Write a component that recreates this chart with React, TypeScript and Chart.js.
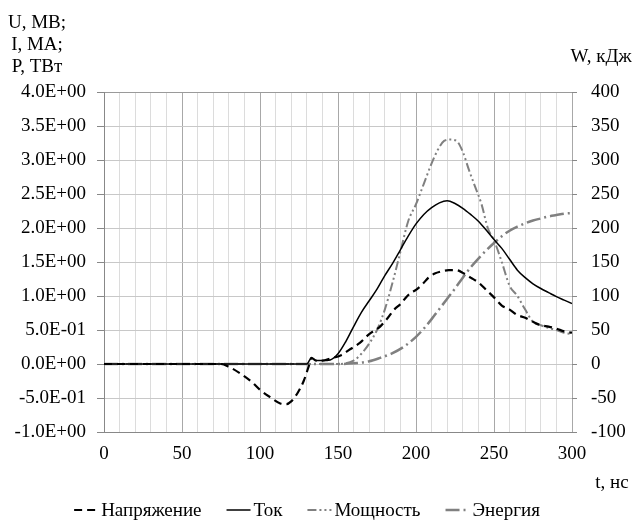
import React, { useEffect, useRef } from 'react';
import { Chart, registerables } from 'chart.js';

Chart.register(...registerables);

const FONT = '"Liberation Serif", "Times New Roman", serif';
const FS = 19;

// ---- Data ----
const seriesNames = ['Напряжение', 'Ток', 'Мощность', 'Энергия'];
const leftTitleLines = ['U, MB;', 'I, MA;', 'P, TBт'];
const rightTitle = 'W, кДж';
const xTitle = 't, нс';

const tVoltage = [0, 75, 80, 88, 95, 100, 106, 113, 117, 120, 124, 128, 131, 133, 136, 140, 145, 152, 158, 164, 170, 177, 182, 186, 190, 194, 197, 200, 204, 208, 212, 216, 221, 226, 230, 235, 240, 245, 250, 255, 260, 265, 270, 275, 280, 285, 290, 295, 300];
const voltage = [0, 0, -0.04, -0.15, -0.27, -0.38, -0.48, -0.58, -0.59, -0.55, -0.43, -0.25, -0.05, 0.09, 0.05, 0.05, 0.08, 0.13, 0.22, 0.31, 0.44, 0.55, 0.68, 0.8, 0.88, 0.99, 1.05, 1.09, 1.17, 1.27, 1.33, 1.36, 1.38, 1.38, 1.34, 1.27, 1.2, 1.09, 0.98, 0.86, 0.8, 0.72, 0.68, 0.62, 0.57, 0.55, 0.52, 0.48, 0.46];

const tCurrent = [0, 130, 133, 136, 140, 145, 150, 155, 160, 165, 170, 175, 180, 185, 190, 195, 200, 205, 210, 215, 220, 225, 230, 235, 240, 245, 250, 255, 260, 265, 270, 275, 280, 285, 290, 295, 300];
const current = [0, 0, 0.09, 0.05, 0.05, 0.06, 0.15, 0.33, 0.55, 0.76, 0.93, 1.1, 1.3, 1.48, 1.68, 1.88, 2.06, 2.2, 2.3, 2.37, 2.4, 2.36, 2.29, 2.2, 2.1, 1.97, 1.83, 1.7, 1.54, 1.38, 1.27, 1.18, 1.11, 1.05, 0.99, 0.94, 0.89];

const tPower = [0, 150, 160, 165, 170, 175, 180, 185, 190, 195, 200, 205, 210, 214, 218, 222, 226, 230, 234, 238, 242, 246, 250, 255, 260, 265, 270, 275, 280, 285, 290, 295, 300];
const power = [0, 0, 0.05, 0.15, 0.3, 0.5, 0.8, 1.2, 1.65, 2.1, 2.35, 2.65, 2.95, 3.15, 3.28, 3.3, 3.28, 3.12, 2.85, 2.6, 2.35, 2.0, 1.82, 1.5, 1.15, 1.0, 0.8, 0.62, 0.57, 0.53, 0.5, 0.46, 0.44];

const tEnergy = [0, 150, 160, 170, 177, 184, 192, 200, 205, 210, 215, 220, 225, 230, 235, 240, 245, 250, 255, 260, 265, 270, 275, 280, 285, 290, 295, 300];
const energy = [0, 0, 1, 4, 9, 15, 25, 40, 52, 66, 81, 96, 111, 127, 142, 155, 167, 178, 188, 196, 202, 207, 211, 214, 217, 219, 221, 222];

const xRange = [0, 300];
const leftRange = [-1, 4];
const rightRange = [-100, 400];

const colors = ['#000000', '#000000', '#808080', '#808080'];
const widths = [2.2, 1.5, 2, 2.5];
const dashes: number[][] = [[8, 5], [], [9, 3, 2, 3, 2, 3], [14, 4, 2, 4]];

function zip(ts: number[], vs: number[]) {
  return ts.map((t, i) => ({ x: t, y: vs[i] }));
}

function sci(raw: number) {
  const v = Math.round(raw * 100) / 100;
  if (Math.abs(v) < 1e-9) return '0.0E+00';
  const e = Math.floor(Math.log10(Math.abs(v)) + 1e-9);
  const m = v / Math.pow(10, e);
  const sign = e < 0 ? '-' : '+';
  return m.toFixed(1) + 'E' + sign + String(Math.abs(e)).padStart(2, '0');
}

const textPlugin = {
  id: 'texts',
  afterDraw(chart: any) {
    const ctx = chart.ctx as CanvasRenderingContext2D;
    ctx.save();
    ctx.fillStyle = '#000';
    ctx.font = `${FS}px ${FONT}`;
    ctx.textAlign = 'center';
    ctx.textBaseline = 'alphabetic';
    leftTitleLines.forEach((line, i) => ctx.fillText(line, 37, 28 + i * 22));
    ctx.fillText(rightTitle, 601, 62);
    ctx.fillText(xTitle, 612, 488);

    // legend
    const sampleW = 24;
    const gapText = 3;
    const gapItem = 25;
    const widthsTxt = seriesNames.map((n) => ctx.measureText(n).width);
    const total = widthsTxt.reduce((a, w) => a + sampleW + gapText + w, 0) + gapItem * (seriesNames.length - 1);
    let x = 307 - total / 2;
    const yLine = 510;
    seriesNames.forEach((n, i) => {
      ctx.beginPath();
      ctx.setLineDash(dashes[i]);
      ctx.strokeStyle = colors[i];
      ctx.lineWidth = widths[i];
      ctx.moveTo(x, yLine);
      ctx.lineTo(x + sampleW, yLine);
      ctx.stroke();
      ctx.setLineDash([]);
      ctx.textAlign = 'left';
      ctx.fillText(n, x + sampleW + gapText, yLine + 6);
      x += sampleW + gapText + widthsTxt[i] + gapItem;
    });
    ctx.restore();
  },
};

export default function App() {
  const ref = useRef<HTMLCanvasElement | null>(null);
  useEffect(() => {
    if (!ref.current) return;
    const series = [zip(tVoltage, voltage), zip(tCurrent, current), zip(tPower, power), zip(tEnergy, energy)];
    const chart = new Chart(ref.current, {
      type: 'line',
      data: {
        datasets: series.map((d, i) => ({
          label: seriesNames[i],
          data: d,
          borderColor: colors[i],
          backgroundColor: colors[i],
          borderWidth: widths[i],
          borderDash: dashes[i],
          pointRadius: 0,
          fill: false,
          cubicInterpolationMode: 'monotone' as const,
          yAxisID: i === 3 ? 'y2' : 'y',
        })),
      },
      options: {
        responsive: false,
        animation: false,
        devicePixelRatio: 1,
        layout: { padding: { top: 92, left: 0, right: 0, bottom: 0 } },
        plugins: { legend: { display: false }, tooltip: { enabled: false } },
        scales: {
          x: {
            type: 'linear',
            min: xRange[0],
            max: xRange[1],
            ticks: {
              stepSize: 10,
              autoSkip: false,
              maxRotation: 0,
              color: '#000',
              font: { family: FONT, size: FS },
              padding: 11,
              callback: (v: any) => (Number(v) % 50 === 0 ? String(v) : ''),
            },
            grid: {
              color: (c: any) => (c.tick && c.tick.value % 50 === 0 ? '#a8a8a8' : '#dcdcdc'),
              drawTicks: false,
            },
            border: { color: '#888888' },
            afterFit: (s: any) => { s.height = 92; },
          },
          y: {
            position: 'left',
            min: leftRange[0],
            max: leftRange[1],
            ticks: {
              stepSize: 0.5,
              color: '#000',
              font: { family: FONT, size: FS },
              padding: 11,
              callback: (v: any) => sci(Number(v)),
            },
            grid: {
              color: (c: any) => (c.tick && Math.abs(c.tick.value - 4) < 1e-6 ? '#9a9a9a' : '#c8c8c8'),
              tickColor: '#888888',
              tickLength: 7,
            },
            border: { color: '#888888' },
            afterFit: (s: any) => { s.width = 104; },
          },
          y2: {
            position: 'right',
            min: rightRange[0],
            max: rightRange[1],
            ticks: {
              stepSize: 50,
              color: '#000',
              font: { family: FONT, size: FS },
              padding: 14,
            },
            grid: { drawOnChartArea: false, tickColor: '#888888', tickLength: 5 },
            border: { display: false },
            afterFit: (s: any) => { s.width = 63; },
          },
        },
      },
      plugins: [textPlugin],
    });
    return () => chart.destroy();
  }, []);
  return (
    <div style={{ position: 'absolute', left: 0, top: 0, width: 635, height: 524, background: '#fff' }}>
      <canvas ref={ref} width={635} height={524} />
    </div>
  );
}
